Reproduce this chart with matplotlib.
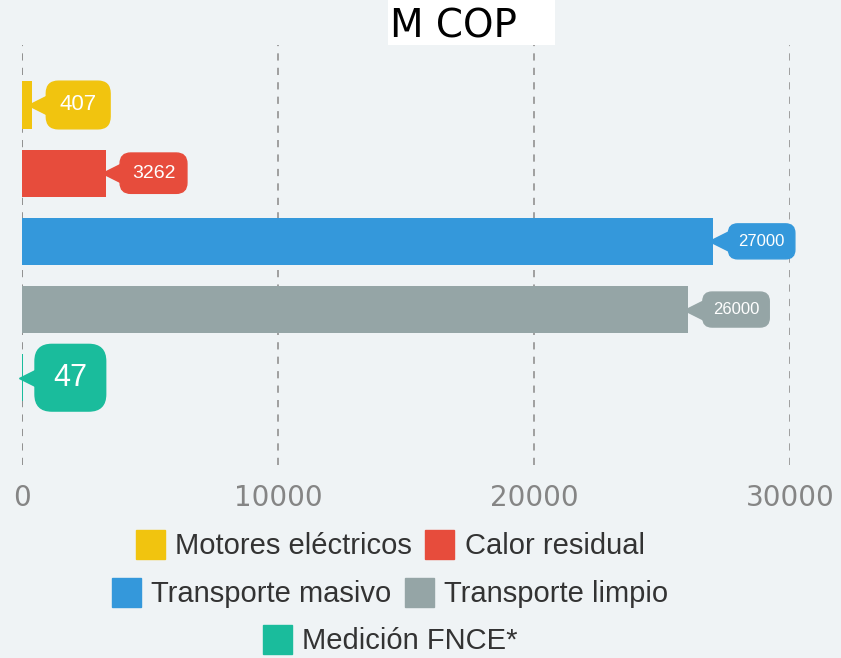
import matplotlib.pyplot as plt
import matplotlib.transforms as mtransforms
from matplotlib.patches import Patch, Rectangle

# Data
categories = ["Motores eléctricos", "Calor residual", "Transporte masivo",
              "Transporte limpio", "Medición FNCE*"]
values = [407, 3262, 27000, 26000, 47]
colors = ["#f1c40f", "#e74c3c", "#3498db", "#95a5a6", "#1abc9c"]
label_sizes = [16, 14, 12, 12, 22]
x_ticks = [0, 10000, 20000, 30000]

bg = "#eff3f5"
plt.rcParams['font.family'] = ['Liberation Sans', 'DejaVu Sans']

fig = plt.figure(figsize=(8.41, 6.58), dpi=100, facecolor=bg)
ax = fig.add_axes([22 / 841, 1 - 465 / 658, 768 / 841, 420 / 658])
ax.set_facecolor(bg)

ypos = list(range(len(values)))
ax.barh(ypos, values, height=0.69, color=colors, zorder=2)

ax.set_xlim(0, 30000)
ax.set_ylim(5.28, -0.88)
ax.set_yticks([])
ax.set_xticks(x_ticks)
ax.set_xticklabels([str(t) for t in x_ticks], fontsize=20, color="#858585",
                   family="DejaVu Sans")
ax.tick_params(axis="x", length=0, pad=14)
for s in ax.spines.values():
    s.set_visible(False)
for t in x_ticks:
    ax.axvline(t, color="#999999" if t else "#888888", lw=1.3,
               ls=(0, (4, 4)), zorder=1)

# Callout labels with a pointer
for y, v, c, fs in zip(ypos, values, colors, label_sizes):
    off = mtransforms.ScaledTranslation(6 / 100, 0, fig.dpi_scale_trans)
    ax.plot(v, y, marker="<", ms=14, color=c, mec=c,
            transform=ax.transData + off, zorder=3, clip_on=False)
    ax.annotate(str(v), (v, y), xytext=(14 + fs * 0.35, 0),
                textcoords="offset points",
                ha="left", va="center", fontsize=fs, color="white",
                bbox=dict(boxstyle="round,pad=0.6,rounding_size=0.55",
                          fc=c, ec=c), zorder=4, annotation_clip=False)

# Title (cut off at the top)
fig.patches.append(Rectangle((388 / 841, 1 - 45 / 658), 167 / 841, 45 / 658,
                             transform=fig.transFigure, fc="white", ec="none"))
fig.text(390 / 841, 1 - 27 / 658, "M COP", ha="left", va="center",
         fontsize=28, color="black", family="DejaVu Sans")

# Legend rows
rows = [[0, 1], [2, 3], [4]]
row_y = [1 - 545 / 658, 1 - 593 / 658, 1 - 640 / 658]
for r, yy in zip(rows, row_y):
    handles = [Patch(fc=colors[i], ec=colors[i], label=categories[i]) for i in r]
    leg = fig.legend(handles=handles, loc="center", bbox_to_anchor=(0.464, yy),
                     ncol=len(r), frameon=False, fontsize=21,
                     handlelength=1.0, handleheight=1.15, handletextpad=0.35,
                     columnspacing=0.45)
    for txt in leg.get_texts():
        txt.set_color("#333333")

fig.savefig("out.png", dpi=100, facecolor=bg)
